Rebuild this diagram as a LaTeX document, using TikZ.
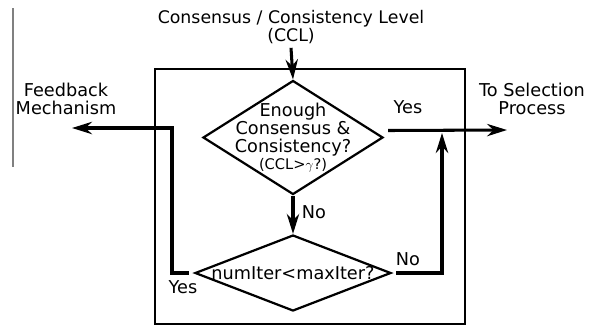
\documentclass[tikz,border=0pt]{standalone}
\usepackage{amsmath,amssymb}
\usepackage{fontspec}
\setmainfont{DejaVu Sans}
\usetikzlibrary{shapes.geometric,arrows.meta}

\begin{document}
\begin{tikzpicture}[x=0.03cm,y=-0.03cm,>={Stealth[length=17pt,width=10.5pt,inset=5.5pt]},
  txt/.style={font=\fontsize{15.1}{15.4}\selectfont,align=center},
  decision/.style={diamond,draw,line width=1.9pt,inner sep=0pt},
  flow/.style={line width=2.6pt}]
\useasboundingbox (0,0) rectangle (591,328);
\draw[gray,line width=1.6pt] (13,8) -- (13,167);
\draw[line width=2.1pt] (155,69) rectangle (465,324);
\node[txt,font=\fontsize{14.8}{13.6}\selectfont] (ccl) at (291,27) {Consensus / Consistency Level\\(CCL)};
\node[decision,minimum width=5.4cm,minimum height=3.42cm] (chk) at (293,137.5) {};
\node[txt,font=\fontsize{15.1}{15}\selectfont] (chktxt) at (293,138) {Enough\\Consensus \&\\Consistency?\\{\fontsize{12.5}{15}\selectfont(CCL>$\gamma$?)}};
\node[decision,minimum width=5.88cm,minimum height=2.28cm] (iter) at (293,273) {};
\node[txt] (itertxt) at (293,273) {numIter<maxIter?};
\node[txt] (fb) at (66,99) {Feedback\\Mechanism};
\node[txt] (sel) at (532,99) {To Selection\\Process};
\node[txt] (yes1) at (408,107) {Yes};
\node[txt] (no1) at (314,212) {No};
\node[txt] (no2) at (408,259) {No};
\node[txt] (yes2) at (183,287) {Yes};
\coordinate (fbend) at (72,128);
\coordinate (selend) at (507,130);
\coordinate (backend) at (442,133);
\draw[flow,->] (ccl.south) -- (chk.north);
\draw[flow,->] (chk.south) -- (iter.north);
\draw[flow,->] ([shift={(4,-7)}]chk.east) -- (selend);
\draw[flow,->] ([xshift=-0.15cm]iter.west) -| (172,128) -- (fbend);
\draw[flow,->] ([xshift=0.12cm]iter.east) -| (backend);
\end{tikzpicture}
\end{document}
